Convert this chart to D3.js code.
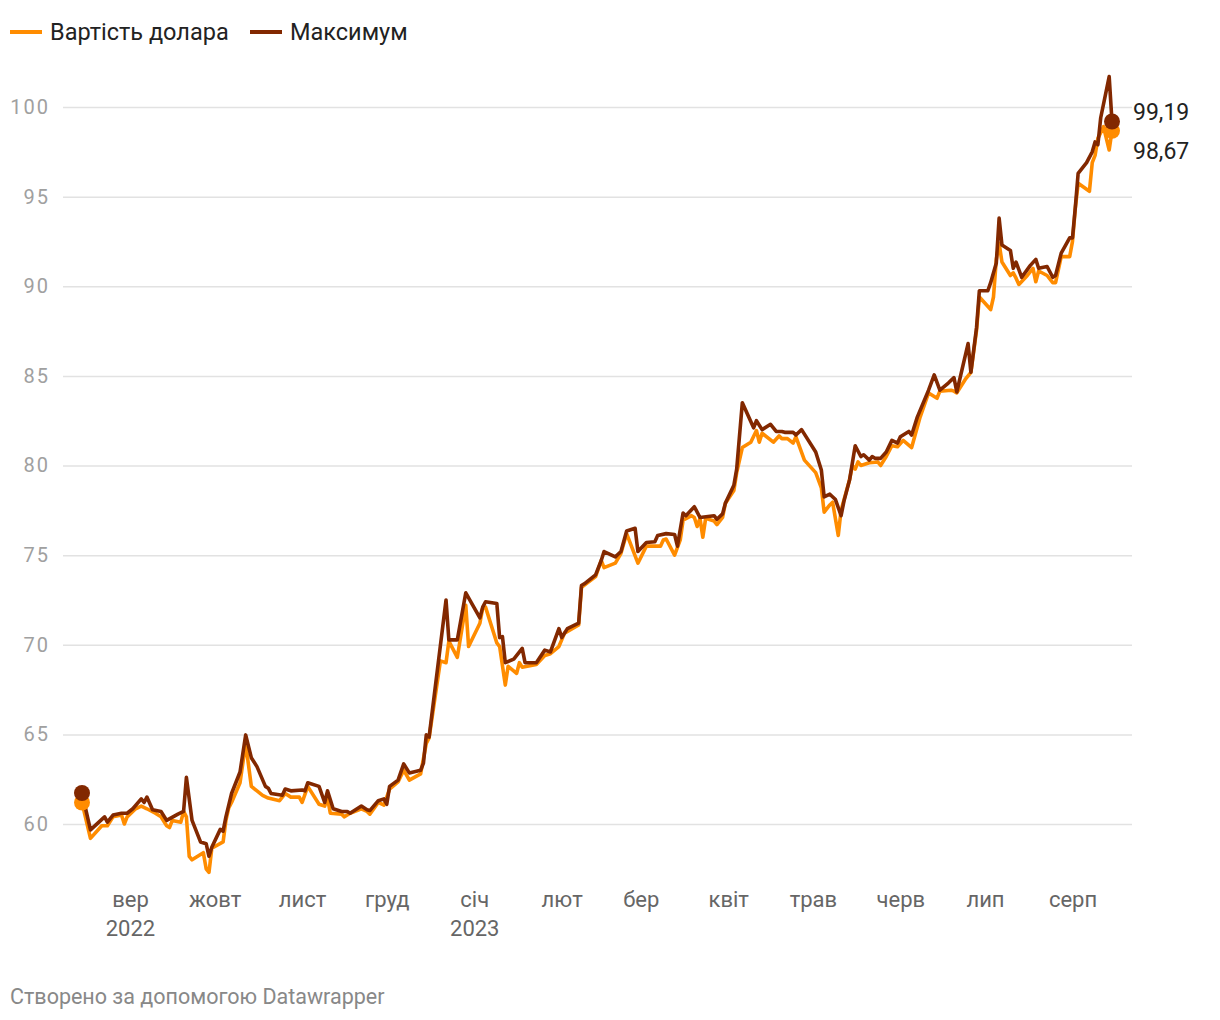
<!DOCTYPE html>
<html>
<head>
<meta charset="utf-8">
<script src="https://cdn.jsdelivr.net/npm/d3@7"></script>
<style>
    body { margin: 0; background: #fff; font-family: Roboto, sans-serif; }
    svg { display: block; }
</style>
</head>
<body>
<div id="chart"></div>
<script>
// Series 1: курс (Вартість долара)
var rateDates = ["2022-08-15","2022-08-18","2022-08-22","2022-08-24","2022-08-26","2022-08-29","2022-08-30","2022-08-31",
    "2022-09-03","2022-09-05","2022-09-07","2022-09-10","2022-09-12","2022-09-14","2022-09-15","2022-09-16","2022-09-19",
    "2022-09-20","2022-09-21","2022-09-22","2022-09-23","2022-09-27","2022-09-28","2022-09-29","2022-09-30",
    "2022-10-04","2022-10-05","2022-10-06","2022-10-07","2022-10-10","2022-10-12","2022-10-14","2022-10-18","2022-10-20",
    "2022-10-24","2022-10-26","2022-10-28","2022-10-31","2022-11-01","2022-11-03","2022-11-07","2022-11-09","2022-11-10",
    "2022-11-11","2022-11-15","2022-11-16","2022-11-18","2022-11-22","2022-11-24","2022-11-25","2022-11-28","2022-11-30",
    "2022-12-02","2022-12-05","2022-12-07","2022-12-09","2022-12-13","2022-12-15","2022-12-16","2022-12-20","2022-12-22",
    "2022-12-23","2022-12-26","2022-12-29","2022-12-30","2023-01-03","2023-01-04","2023-01-05","2023-01-09","2023-01-10",
    "2023-01-12","2023-01-13","2023-01-16","2023-01-17","2023-01-18","2023-01-23","2023-01-26","2023-01-28","2023-01-31",
    "2023-02-02","2023-02-07","2023-02-08","2023-02-13","2023-02-15","2023-02-16","2023-02-20","2023-02-22","2023-02-24",
    "2023-02-28","2023-03-03","2023-03-08","2023-03-09","2023-03-10","2023-03-13","2023-03-15","2023-03-16","2023-03-19",
    "2023-03-20","2023-03-21","2023-03-22","2023-03-23","2023-03-24","2023-03-27","2023-03-28","2023-03-30","2023-03-31",
    "2023-04-03","2023-04-04","2023-04-06","2023-04-09","2023-04-11","2023-04-12","2023-04-13","2023-04-17","2023-04-19",
    "2023-04-20","2023-04-22","2023-04-24","2023-04-25","2023-04-28","2023-05-02","2023-05-04","2023-05-05","2023-05-07",
    "2023-05-08","2023-05-10","2023-05-11","2023-05-14","2023-05-15","2023-05-16","2023-05-17","2023-05-18","2023-05-21",
    "2023-05-24","2023-05-25","2023-05-27","2023-05-29","2023-05-31","2023-06-02","2023-06-05","2023-06-08","2023-06-11",
    "2023-06-14","2023-06-15","2023-06-19","2023-06-20","2023-06-21","2023-06-24","2023-06-26","2023-06-28","2023-06-29",
    "2023-07-03","2023-07-04","2023-07-05","2023-07-06","2023-07-07","2023-07-10","2023-07-11","2023-07-12","2023-07-13",
    "2023-07-16","2023-07-17","2023-07-18","2023-07-19","2023-07-20","2023-07-23","2023-07-25","2023-07-26","2023-07-28",
    "2023-07-31","2023-08-01","2023-08-02","2023-08-03","2023-08-07","2023-08-08","2023-08-09","2023-08-10","2023-08-12",
    "2023-08-14","2023-08-15"];
var rateValues = [61.2,59.2,59.9,59.9,60.4,60.5,60.0,60.4,
    60.85,61.0,60.85,60.6,60.4,59.9,59.8,60.2,60.1,
    60.7,60.4,58.2,58.0,58.4,57.5,57.3,58.65,
    59.0,60.2,60.9,61.2,62.3,64.5,62.1,61.6,61.45,
    61.3,61.7,61.5,61.5,61.2,62.1,61.1,61.0,61.45,
    60.6,60.55,60.4,60.6,60.85,60.7,60.55,61.2,61.05,
    61.95,62.35,63.0,62.45,62.8,64.5,64.8,69.1,69.0,
    70.2,69.3,72.2,69.9,71.2,72.05,72.1,70.1,69.9,
    67.75,68.8,68.4,69.0,68.75,68.9,69.4,69.5,69.9,
    70.65,71.1,73.2,73.8,74.7,74.3,74.55,75.1,76.2,
    74.55,75.5,75.5,75.85,75.9,75.0,75.85,76.95,77.2,
    77.1,76.6,77.05,76.0,77.05,76.9,76.7,77.1,77.9,
    78.6,79.6,81.0,81.3,81.95,81.3,81.8,81.3,81.65,
    81.5,81.5,81.25,81.6,80.3,79.6,78.75,77.4,77.8,
    77.95,76.1,77.5,79.2,80.0,79.8,80.2,80.0,80.15,
    80.2,80.0,80.5,81.1,81.05,81.4,81.0,82.7,84.05,
    83.75,84.15,84.2,84.15,84.05,84.8,85.2,87.55,89.4,
    88.7,89.4,91.5,92.4,91.35,90.6,90.75,90.45,90.1,
    90.6,90.8,91.0,90.25,90.85,90.6,90.2,90.2,91.65,
    91.65,92.5,94.35,95.75,95.3,96.9,97.3,98.25,98.9,
    97.6,98.67];

// Series 2: Максимум
var maxDates = ["2022-08-15","2022-08-18","2022-08-23","2022-08-24","2022-08-26","2022-08-29","2022-08-31","2022-09-02",
    "2022-09-05","2022-09-06","2022-09-07","2022-09-09","2022-09-12","2022-09-14","2022-09-18","2022-09-20","2022-09-21",
    "2022-09-23","2022-09-26","2022-09-28","2022-09-29","2022-09-30","2022-10-03","2022-10-04","2022-10-05","2022-10-07",
    "2022-10-10","2022-10-12","2022-10-14","2022-10-16","2022-10-19","2022-10-20","2022-10-21","2022-10-25","2022-10-26",
    "2022-10-28","2022-11-01","2022-11-02","2022-11-03","2022-11-07","2022-11-09","2022-11-10","2022-11-12","2022-11-15",
    "2022-11-17","2022-11-18","2022-11-22","2022-11-24","2022-11-25","2022-11-28","2022-11-30","2022-12-01","2022-12-02",
    "2022-12-05","2022-12-07","2022-12-09","2022-12-13","2022-12-14","2022-12-15","2022-12-16","2022-12-22","2022-12-23",
    "2022-12-26","2022-12-29","2023-01-03","2023-01-04","2023-01-05","2023-01-09","2023-01-10","2023-01-11","2023-01-12",
    "2023-01-15","2023-01-18","2023-01-19","2023-01-23","2023-01-26","2023-01-28","2023-01-31","2023-02-01","2023-02-03",
    "2023-02-07","2023-02-08","2023-02-09","2023-02-13","2023-02-15","2023-02-16","2023-02-20","2023-02-22","2023-02-24",
    "2023-02-27","2023-02-28","2023-03-03","2023-03-06","2023-03-07","2023-03-10","2023-03-13","2023-03-14","2023-03-16",
    "2023-03-17","2023-03-20","2023-03-22","2023-03-27","2023-03-28","2023-03-30","2023-03-31","2023-04-03","2023-04-04",
    "2023-04-06","2023-04-10","2023-04-11","2023-04-13","2023-04-16","2023-04-18","2023-04-20","2023-04-21","2023-04-24",
    "2023-04-25","2023-04-27","2023-05-02","2023-05-04","2023-05-05","2023-05-07","2023-05-09","2023-05-11","2023-05-12",
    "2023-05-14","2023-05-16","2023-05-18","2023-05-19","2023-05-21","2023-05-22","2023-05-23","2023-05-25","2023-05-27",
    "2023-05-29","2023-05-31","2023-06-01","2023-06-04","2023-06-05","2023-06-07","2023-06-11","2023-06-13","2023-06-15",
    "2023-06-18","2023-06-20","2023-06-21","2023-06-25","2023-06-26","2023-06-28","2023-06-29","2023-07-02","2023-07-03",
    "2023-07-05","2023-07-06","2023-07-07","2023-07-10","2023-07-11","2023-07-12","2023-07-14","2023-07-17","2023-07-19",
    "2023-07-20","2023-07-23","2023-07-25","2023-07-26","2023-07-28","2023-07-31","2023-08-01","2023-08-02","2023-08-03",
    "2023-08-06","2023-08-08","2023-08-09","2023-08-10","2023-08-11","2023-08-14","2023-08-15"];
var maxValues = [61.73,59.67,60.4,60.1,60.5,60.6,60.6,60.85,
    61.4,61.2,61.5,60.8,60.7,60.2,60.55,60.7,62.6,
    60.2,59.0,58.9,58.2,58.7,59.7,59.6,60.4,61.7,
    62.9,64.97,63.7,63.2,62.1,62.0,61.7,61.6,61.95,
    61.85,61.9,61.85,62.3,62.1,61.2,61.85,60.85,60.7,
    60.7,60.6,61.0,60.8,60.75,61.3,61.4,61.1,62.1,
    62.45,63.35,62.85,63.0,63.4,64.97,64.85,72.5,70.27,
    70.27,72.9,71.5,72.1,72.4,72.3,70.4,70.45,69.0,
    69.2,69.8,69.0,69.0,69.7,69.6,70.9,70.4,70.9,
    71.2,73.3,73.4,73.9,74.7,75.2,74.9,75.2,76.35,
    76.5,75.2,75.7,75.75,76.1,76.2,76.15,75.5,77.35,
    77.2,77.7,77.1,77.2,77.0,77.3,77.9,78.9,79.8,
    83.5,82.1,82.5,82.0,82.3,81.9,81.9,81.85,81.85,
    81.7,82.0,80.75,79.75,78.25,78.4,78.1,77.2,78.0,
    79.2,81.1,80.5,80.6,80.3,80.5,80.4,80.4,80.75,
    81.4,81.25,81.6,81.9,81.7,82.7,84.2,85.05,84.2,
    84.6,84.9,84.1,86.8,85.2,87.7,89.75,89.75,90.2,
    91.3,93.8,92.3,92.0,91.0,91.35,90.5,91.15,91.5,
    91.0,91.1,90.5,90.6,91.85,92.7,92.7,94.4,96.3,
    96.9,97.5,98.05,97.9,99.4,101.7,99.19];

var yTicks = [60, 65, 70, 75, 80, 85, 90, 95, 100];
var monthLabels = ["вер", "жовт", "лист", "груд", "січ", "лют", "бер", "квіт", "трав", "черв", "лип", "серп"];
var yearLabels = { "вер": "2022", "січ": "2023" };
var seriesNames = ["Вартість долара", "Максимум"];
var seriesColors = ["#ff8c00", "#822800"];

var parse = d3.timeParse("%Y-%m-%d");
var rate = rateDates.map((d, i) => ({ date: parse(d), value: rateValues[i] }));
var maxi = maxDates.map((d, i) => ({ date: parse(d), value: maxValues[i] }));

var svg = d3.select("#chart").append("svg").attr("width", 1220).attr("height", 1020);

// Scales
var x = d3.scaleTime()
    .domain([parse("2022-08-15"), parse("2023-08-15")])
    .range([82, 1112]);

var y = d3.scaleLinear()
    .domain([60, 100])
    .range([824, 107]);

// Grid + y labels
var yAxis = svg.append("g")
    .attr("transform", "translate(63,0)")
    .call(d3.axisLeft(y).tickValues(yTicks).tickSize(-1069).tickPadding(13));
yAxis.select(".domain").remove();
yAxis.selectAll("line").attr("stroke", "#e2e2e2").attr("stroke-width", 1.5);
yAxis.selectAll("text")
    .attr("fill", "#a0a0a0")
    .style("font-family", "Roboto")
    .style("font-size", "20px")
    .style("letter-spacing", "2px");

// x axis: month starts
var months = d3.timeMonth.range(parse("2022-09-01"), parse("2023-08-02"));
var xAxis = svg.append("g")
    .attr("transform", "translate(0,891)")
    .call(d3.axisBottom(x).tickValues(months).tickSize(0).tickPadding(0)
        .tickFormat((d, i) => monthLabels[i]));
xAxis.select(".domain").remove();
xAxis.selectAll("text")
    .attr("fill", "#666")
    .style("font-family", "Roboto")
    .style("font-size", "22px")
    .each(function (d, i) {
        var yr = yearLabels[monthLabels[i]];
        if (yr) {
            d3.select(this).append("tspan").attr("x", 0).attr("dy", "1.32em").text(yr);
        }
    });

// Lines
var line = d3.line().x(d => x(d.date)).y(d => y(d.value));

svg.append("path").datum(rate)
    .attr("fill", "none").attr("stroke", seriesColors[0]).attr("stroke-width", 3.6)
    .attr("stroke-linejoin", "round").attr("d", line);

svg.append("path").datum(maxi)
    .attr("fill", "none").attr("stroke", seriesColors[1]).attr("stroke-width", 3.6)
    .attr("stroke-linejoin", "round").attr("d", line);

// End point dots
[rate, maxi].forEach(function (s, i) {
    svg.selectAll(null)
        .data([s[0], s[s.length - 1]])
        .enter().append("circle")
        .attr("cx", d => x(d.date))
        .attr("cy", d => y(d.value))
        .attr("r", 8)
        .attr("fill", seriesColors[i]);
});

// Value labels at the end
var fmt = d => d3.format(".2f")(d).replace(".", ",");
var lastMax = maxi[maxi.length - 1], lastRate = rate[rate.length - 1];
svg.append("text")
    .attr("x", 1133).attr("y", y(lastMax.value) - 10).attr("dy", "0.35em")
    .attr("fill", "#222").style("font-size", "23px")
    .text(fmt(lastMax.value));
svg.append("text")
    .attr("x", 1133).attr("y", y(lastRate.value) + 20).attr("dy", "0.35em")
    .attr("fill", "#222").style("font-size", "23px")
    .text(fmt(lastRate.value));

// Legend
var legend = svg.append("g").attr("transform", "translate(10,32)");
var lx = [0, 240];
seriesNames.forEach(function (n, i) {
    legend.append("line")
        .attr("x1", lx[i]).attr("x2", lx[i] + 32)
        .attr("stroke", seriesColors[i]).attr("stroke-width", 4);
    legend.append("text")
        .attr("x", lx[i] + 40).attr("dy", "0.35em")
        .attr("fill", "#222").style("font-size", "23.5px")
        .text(n);
});

// Footer
svg.append("text")
    .attr("x", 10).attr("y", 1004)
    .attr("fill", "#888").style("font-size", "21.5px")
    .text("Створено за допомогою Datawrapper");
</script>
</body>
</html>
